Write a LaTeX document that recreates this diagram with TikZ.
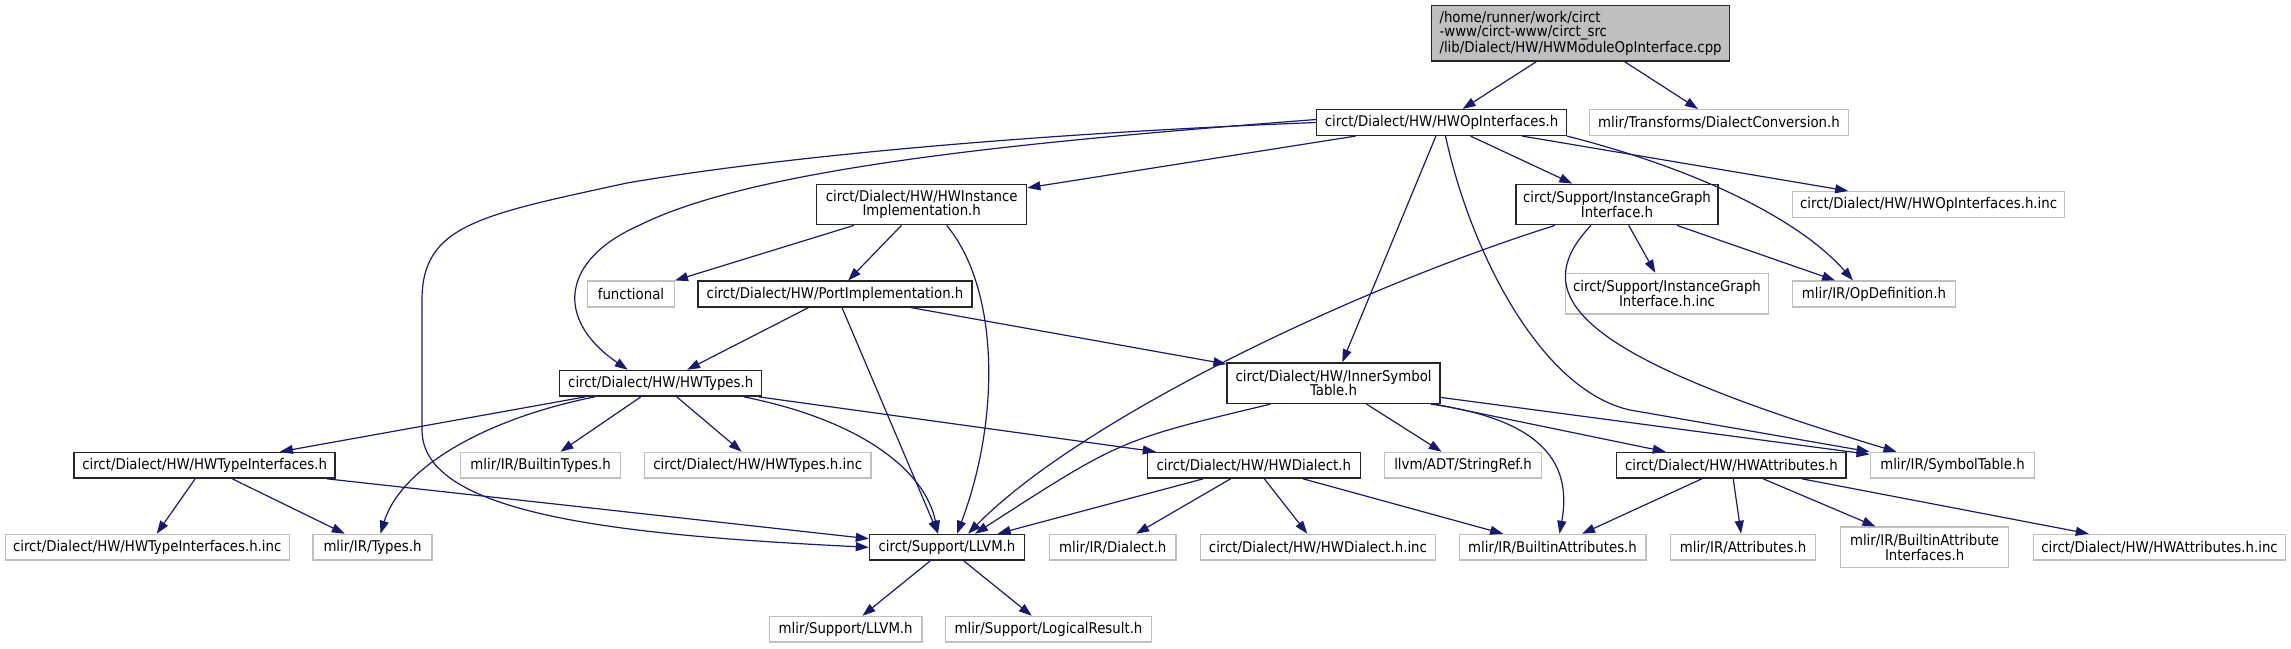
\documentclass[tikz,border=0pt]{standalone}
\usepackage{fontspec}
\setmainfont{DejaVu Sans Condensed}
\usetikzlibrary{arrows.meta}
\definecolor{edgeblue}{HTML}{191970}
\definecolor{extgrey}{HTML}{BFBFBF}
\tikzset{
	hdr/.style={
		draw=black!85, rectangle, line width=1.4pt,
		minimum height=25.7pt, inner sep=2pt,
		font=\fontsize{14.8}{14.5}\selectfont, align=center
	},
	ext/.style={hdr, draw=extgrey},
	srcfile/.style={hdr, fill=extgrey, align=left},
	twoline/.style={minimum height=40.4pt},
	inc/.style={edgeblue, line width=1.2pt, -{Triangle[length=13pt,width=9pt]}}
}

\begin{document}
\begin{tikzpicture}[x=1pt,y=-1pt]
				\useasboundingbox (0,0) rectangle (2291,648);
				% files
				\node[srcfile, minimum width=298pt, minimum height=55.3pt] (cpp) at (1580.6,33.3) {/home/runner/work/circt\\-www/circt-www/circt\_src\\/lib/Dialect/HW/HWModuleOpInterface.cpp};
				\node[hdr, minimum width=249.5pt] (hwop) at (1441.5,122.5) {circt/Dialect/HW/HWOpInterfaces.h};
				\node[ext, minimum width=259pt] (dconv) at (1719,122.5) {mlir/Transforms/DialectConversion.h};
				\node[hdr, twoline, minimum width=210pt] (inst) at (921.7,204.5) {circt/Dialect/HW/HWInstance\\Implementation.h};
				\node[hdr, twoline, minimum width=202pt] (igraph) at (1617,204.5) {circt/Support/InstanceGraph\\Interface.h};
				\node[ext, minimum width=272pt] (opinc) at (1928.6,204.5) {circt/Dialect/HW/HWOpInterfaces.h.inc};
				\node[ext, minimum width=87pt] (func) at (631,294) {functional};
				\node[hdr, minimum width=274pt] (port) at (835,294) {circt/Dialect/HW/PortImplementation.h};
				\node[ext, twoline, minimum width=203pt] (iginc) at (1667,293.7) {circt/Support/InstanceGraph\\Interface.h.inc};
				\node[ext, minimum width=163pt] (opdef) at (1874,294) {mlir/IR/OpDefinition.h};
				\node[hdr, minimum width=202pt] (types) at (660.7,383.3) {circt/Dialect/HW/HWTypes.h};
				\node[hdr, twoline, minimum width=213pt] (innersym) at (1333.6,383.2) {circt/Dialect/HW/InnerSymbol\\Table.h};
				\node[hdr, minimum width=261pt] (tyif) at (204.6,465.3) {circt/Dialect/HW/HWTypeInterfaces.h};
				\node[ext, minimum width=160pt] (btypes) at (540.6,465.3) {mlir/IR/BuiltinTypes.h};
				\node[ext, minimum width=226.6pt] (typesinc) at (757.7,465.3) {circt/Dialect/HW/HWTypes.h.inc};
				\node[hdr, minimum width=213pt] (hwdialect) at (1253.8,465.3) {circt/Dialect/HW/HWDialect.h};
				\node[ext, minimum width=157pt] (strref) at (1463,465.3) {llvm/ADT/StringRef.h};
				\node[hdr, minimum width=229.6pt] (hwattr) at (1731.3,465.3) {circt/Dialect/HW/HWAttributes.h};
				\node[ext, minimum width=164.5pt] (symtab) at (1952.5,465.3) {mlir/IR/SymbolTable.h};
				\node[ext, minimum width=284pt] (tyifinc) at (147.2,547.3) {circt/Dialect/HW/HWTypeInterfaces.h.inc};
				\node[ext, minimum width=119pt] (irtypes) at (372.5,547.3) {mlir/IR/Types.h};
				\node[hdr, minimum width=155pt] (llvm) at (947,547.3) {circt/Support/LLVM.h};
				\node[ext, minimum width=126.5pt] (dialect) at (1112.8,547.3) {mlir/IR/Dialect.h};
				\node[ext, minimum width=234.7pt] (dialinc) at (1317.9,547.3) {circt/Dialect/HW/HWDialect.h.inc};
				\node[ext, minimum width=186.6pt] (battr) at (1552.5,547.3) {mlir/IR/BuiltinAttributes.h};
				\node[ext, minimum width=145pt] (attrs) at (1743,547.3) {mlir/IR/Attributes.h};
				\node[ext, twoline, minimum width=168pt] (baif) at (1924.6,547.3) {mlir/IR/BuiltinAttribute\\Interfaces.h};
				\node[ext, minimum width=252pt] (attrinc) at (2159.5,547.3) {circt/Dialect/HW/HWAttributes.h.inc};
				\node[ext, minimum width=152.6pt] (mllvm) at (845.7,629.3) {mlir/Support/LLVM.h};
				\node[ext, minimum width=206pt] (logres) at (1048.5,629.3) {mlir/Support/LogicalResult.h};
				% includes
				\draw[inc] (cpp) -- (hwop);
				\draw[inc] (cpp) -- (dconv);
				\draw[inc] (hwop) -- (inst);
				\draw[inc] (hwop.west) .. controls (1000,135) and (760,160) .. (627,183)
					.. controls (480,215) and (422,225) .. (422,300) -- (422,430)
					.. controls (422,515) and (620,535) .. (llvm.west);
				\draw[inc] ([yshift=3pt]hwop.west) .. controls (1050,140) and (760,165) .. (640,225)
					.. controls (560,260) and (555,320) .. ([xshift=-33pt]types.north);
				\draw[inc] (hwop) -- (igraph);
				\draw[inc] (hwop) -- (opinc);
				\draw[inc] (hwop.south east) .. controls (1700,170) and (1800,220) .. ([xshift=-21pt]opdef.north);
				\draw[inc] (hwop) -- (innersym);
				\draw[inc] ([xshift=4pt]hwop.south) .. controls (1470,250) and (1540,390) .. (1630,410) -- (symtab.north west);
				\draw[inc] (inst) -- (func);
				\draw[inc] (inst) -- (port);
				\draw[inc] ([xshift=25pt]inst.south) .. controls (1000,290) and (1000,420) .. ([xshift=10pt]llvm.north);
				\draw[inc] (port) -- (types);
				\draw[inc] ([xshift=7pt]port.south) -- ([xshift=-9pt]llvm.north);
				\draw[inc] (port) -- (innersym);
				\draw[inc] (igraph) -- (iginc);
				\draw[inc] (igraph) -- (opdef);
				\draw[inc] ([xshift=-62pt]igraph.south) .. controls (1350,290) and (1080,420) .. ([xshift=21pt]llvm.north);
				\draw[inc] ([xshift=-26pt]igraph.south) .. controls (1520,300) and (1590,360) .. ([xshift=-56pt]symtab.north);
				\draw[inc] (types) -- (tyif);
				\draw[inc] ([xshift=-66pt]types.south) .. controls (480,420) and (400,470) .. ([xshift=8pt]irtypes.north);
				\draw[inc] (types) -- (btypes);
				\draw[inc] (types) -- (typesinc);
				\draw[inc] ([xshift=83pt]types.south) .. controls (860,420) and (925,470) .. ([xshift=-9pt]llvm.north);
				\draw[inc] (types) -- (hwdialect);
				\draw[inc] (tyif) -- (tyifinc);
				\draw[inc] (tyif) -- (irtypes);
				\draw[inc] (tyif) -- (llvm);
				\draw[inc] ([xshift=-63pt]innersym.south) .. controls (1120,440) .. ([xshift=28pt]llvm.north);
				\draw[inc] (innersym) -- (strref);
				\draw[inc] ([xshift=97pt]innersym.south) .. controls (1545,420) and (1572,465) .. ([xshift=7pt]battr.north);
				\draw[inc] (innersym) -- (hwattr);
				\draw[inc] (innersym) -- (symtab);
				\draw[inc] (hwdialect) -- (llvm);
				\draw[inc] (hwdialect) -- (dialect);
				\draw[inc] (hwdialect) -- (dialinc);
				\draw[inc] (hwdialect) -- (battr);
				\draw[inc] (hwattr) -- (battr);
				\draw[inc] (hwattr) -- (attrs);
				\draw[inc] (hwattr) -- (baif);
				\draw[inc] (hwattr) -- (attrinc);
				\draw[inc] (llvm) -- (mllvm);
				\draw[inc] (llvm) -- (logres);
			\end{tikzpicture}
\end{document}
